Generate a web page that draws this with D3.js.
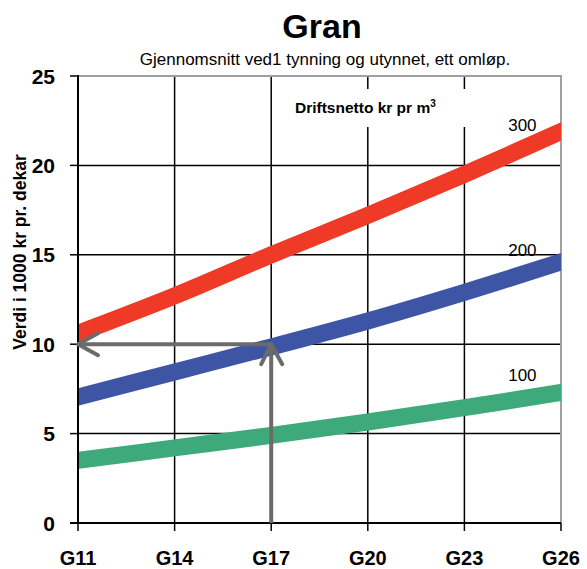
<!DOCTYPE html>
<html>
<head>
<meta charset="utf-8">
<script src="https://cdn.jsdelivr.net/npm/d3@7"></script>
<style>
  body { margin: 0; background: #fff; }
  svg { font-family: "Liberation Sans", Arial, sans-serif; }
</style>
</head>
<body>
<svg width="587" height="569"></svg>
<script>
"use strict";

const categories = ["G11", "G14", "G17", "G20", "G23", "G26"];
const values_300 = [10.6, 12.7, 15.0, 17.2, 19.5, 21.9];
const values_200 = [7.05, 8.45, 9.85, 11.3, 12.9, 14.6];
const values_100 = [3.5, 4.2, 4.9, 5.65, 6.45, 7.3];
const series_names = ["300", "200", "100"];
const y_ticks = [0, 5, 10, 15, 20, 25];
const guide_point = { cat: "G17", value: 10 };

const line_colors = { "300": "#ee3a26", "200": "#3e55a6", "100": "#3ea97b" };

const svg = d3.select("svg");
const plot_left = 78, plot_right = 561, plot_top = 76, plot_bottom = 523;

const x = d3.scalePoint().domain(categories).range([plot_left, plot_right]);
const y = d3.scaleLinear().domain([0, 25]).range([plot_bottom, plot_top]);

// title
svg.append("text")
    .attr("x", 322).attr("y", 38)
    .attr("text-anchor", "middle")
    .attr("font-size", 34).attr("font-weight", "bold")
    .text("Gran");
svg.append("text")
    .attr("x", 325).attr("y", 65)
    .attr("text-anchor", "middle")
    .attr("font-size", 17)
    .text("Gjennomsnitt ved1 tynning og utynnet, ett omløp.");

// grid
const grid = svg.append("g");
grid.selectAll(".hgrid")
    .data(y_ticks.filter(d => d > 0 && d < 25))
    .enter().append("line")
    .attr("x1", plot_left).attr("x2", plot_right)
    .attr("y1", d => y(d)).attr("y2", d => y(d))
    .attr("stroke", "#000").attr("stroke-width", 1.5);
grid.selectAll(".vgrid")
    .data(categories.slice(1, -1))
    .enter().append("line")
    .attr("x1", d => x(d)).attr("x2", d => x(d))
    .attr("y1", plot_top).attr("y2", plot_bottom)
    .attr("stroke", "#000").attr("stroke-width", 1.5);

// frame top / right
svg.append("path")
    .attr("d", `M${plot_left},${plot_top} H${plot_right} V${plot_bottom}`)
    .attr("fill", "none").attr("stroke", "#a0a0a0").attr("stroke-width", 2);

// legend title box (hides grid behind)
svg.append("rect")
    .attr("x", 284).attr("y", 89).attr("width", 190).attr("height", 38)
    .attr("fill", "#fff");
const lt = svg.append("text")
    .attr("x", 295).attr("y", 113)
    .attr("font-size", 15.5).attr("font-weight", "bold")
    .text("Driftsnetto kr pr m");
lt.append("tspan").attr("dy", -6).attr("font-size", 10).text("3");

// data lines
svg.append("defs").append("clipPath").attr("id", "plot")
    .append("rect").attr("x", plot_left).attr("y", plot_top)
    .attr("width", plot_right - plot_left).attr("height", plot_bottom - plot_top);

const series = {
    "300": values_300,
    "200": values_200,
    "100": values_100
};

const lines = svg.append("g").attr("clip-path", "url(#plot)");
series_names.forEach(name => {
    const vals = series[name];
    // extend a little beyond the edges so the clip cuts the ends square
    const first = vals[0] - (vals[1] - vals[0]) * 0.1;
    const last = vals[5] + (vals[5] - vals[4]) * 0.1;
    const step = x.step();
    const pts = vals.map((v, i) => [x(categories[i]), y(v)]);
    pts.unshift([plot_left - step * 0.1, y(first)]);
    pts.push([plot_right + step * 0.1, y(last)]);
    lines.append("path")
        .attr("d", d3.line().curve(d3.curveCatmullRom)(pts))
        .attr("fill", "none")
        .attr("stroke", line_colors[name])
        .attr("stroke-width", 17);

    // label placed above the line, 60% between G23 and G26
    const t = 0.6;
    const vAt = vals[4] + (vals[5] - vals[4]) * t;
    svg.append("text")
        .attr("x", x("G23") + (x("G26") - x("G23")) * t)
        .attr("y", y(vAt) - 18)
        .attr("text-anchor", "middle")
        .attr("font-size", 17)
        .text(name);
});

// axes
const yAxis = svg.append("g");
yAxis.append("line")
    .attr("x1", plot_left).attr("x2", plot_left).attr("y1", plot_top - 1).attr("y2", plot_bottom)
    .attr("stroke", "#000").attr("stroke-width", 2);
yAxis.selectAll(".tick")
    .data(y_ticks).enter().append("line")
    .attr("x1", plot_left - 8).attr("x2", plot_left)
    .attr("y1", d => y(d)).attr("y2", d => y(d))
    .attr("stroke", "#000").attr("stroke-width", 1.5);
yAxis.selectAll(".lbl")
    .data(y_ticks).enter().append("text")
    .attr("x", 55).attr("y", d => y(d))
    .attr("dy", "0.36em")
    .attr("text-anchor", "end")
    .attr("font-size", 21).attr("font-weight", "bold")
    .text(d => d);

const xAxis = svg.append("g");
xAxis.append("line")
    .attr("x1", plot_left - 8).attr("x2", plot_right).attr("y1", plot_bottom).attr("y2", plot_bottom)
    .attr("stroke", "#000").attr("stroke-width", 2);
xAxis.selectAll(".tick")
    .data(categories).enter().append("line")
    .attr("x1", d => x(d)).attr("x2", d => x(d))
    .attr("y1", plot_bottom).attr("y2", plot_bottom + 8)
    .attr("stroke", "#000").attr("stroke-width", 1.5);
xAxis.selectAll(".lbl")
    .data(categories).enter().append("text")
    .attr("x", d => x(d)).attr("y", 565)
    .attr("text-anchor", "middle")
    .attr("font-size", 20).attr("font-weight", "bold")
    .text(d => d);

svg.append("text")
    .attr("transform", "translate(26,252) rotate(-90)")
    .attr("text-anchor", "middle")
    .attr("font-size", 17.5).attr("font-weight", "bold")
    .text("Verdi i 1000 kr pr. dekar");

// guide arrows
const gx = x(guide_point.cat), gy = y(guide_point.value);
const arrow = svg.append("g")
    .attr("fill", "none").attr("stroke", "#6b6b6b")
    .attr("stroke-width", 4).attr("stroke-linecap", "round")
    .attr("stroke-linejoin", "round");
arrow.append("path").attr("d", `M${gx},${plot_bottom} V${gy + 2}`).attr("stroke-linecap", "butt");
arrow.append("path").attr("d", `M${gx - 10},${gy + 20} L${gx},${gy} L${gx + 11},${gy + 20}`);
arrow.append("path").attr("d", `M${gx},${gy} H${plot_left + 2}`);
arrow.append("path").attr("d", `M${plot_left + 20},${gy - 11} L${plot_left},${gy} L${plot_left + 20},${gy + 11}`);
</script>
</body>
</html>
